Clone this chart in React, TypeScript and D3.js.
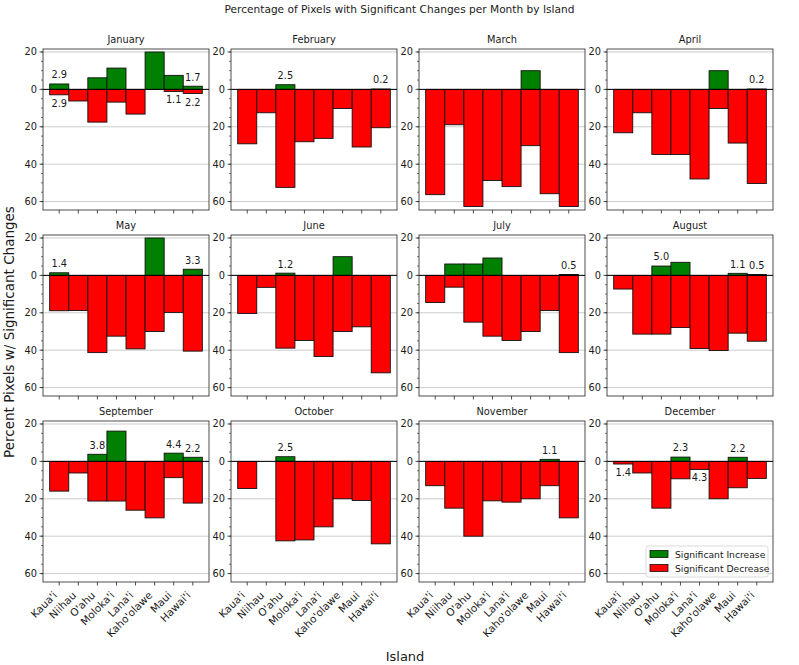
import React from "react";
import * as d3 from "d3";

const islands = ["Kaua'i", "Niihau", "O'ahu", "Moloka'i", "Lana'i", "Kaho'olawe", "Maui", "Hawai'i"];
const months = ["January", "February", "March", "April", "May", "June", "July", "August", "September", "October", "November", "December"];

// Percent of pixels with significant increase, per month (rows) by island (columns)
const increaseByMonth = [
  [2.9, 0, 6.2, 11.4, 0, 20.0, 7.5, 1.7],
  [0, 0, 2.5, 0, 0, 0, 0, 0.2],
  [0, 0, 0, 0, 0, 10.0, 0, 0],
  [0, 0, 0, 0, 0, 10.0, 0, 0.2],
  [1.4, 0, 0, 0, 0, 20.0, 0, 3.3],
  [0, 0, 1.2, 0, 0, 10.0, 0, 0],
  [0, 6.1, 6.1, 9.3, 0, 0, 0, 0.5],
  [0, 0, 5.0, 7.0, 0, 0, 1.1, 0.5],
  [0, 0, 3.8, 16.2, 0, 0, 4.4, 2.2],
  [0, 0, 2.5, 0, 0, 0, 0, 0],
  [0, 0, 0, 0, 0, 0, 1.1, 0],
  [0, 0, 0, 2.3, 0, 0, 2.2, 0],
];

// Percent of pixels with significant decrease, per month (rows) by island (columns)
const decreaseByMonth = [
  [2.9, 6.2, 17.5, 6.8, 13.2, 0, 1.1, 2.2],
  [29.1, 12.5, 52.4, 28.0, 26.2, 10.2, 30.8, 20.5],
  [56.3, 18.9, 62.6, 48.7, 52.0, 30.1, 55.8, 62.6],
  [23.2, 12.5, 34.8, 34.8, 47.9, 10.2, 28.7, 50.3],
  [18.9, 18.8, 41.3, 32.5, 39.3, 30.0, 19.8, 40.5],
  [20.4, 6.4, 38.9, 34.8, 43.4, 30.0, 27.5, 52.1],
  [14.5, 6.3, 25.0, 32.5, 34.8, 30.0, 18.8, 41.3],
  [7.3, 31.4, 31.4, 27.9, 39.1, 40.2, 30.9, 35.2],
  [15.9, 6.2, 21.2, 21.2, 26.1, 30.2, 8.7, 22.3],
  [14.5, 0, 42.5, 42.0, 35.0, 20.0, 20.9, 44.1],
  [13.0, 25.0, 40.0, 21.1, 21.8, 20.0, 13.0, 30.2],
  [1.4, 6.2, 25.0, 9.3, 4.3, 20.0, 14.1, 9.1],
];

const yMajorTicks = [20, 0, -20, -40, -60];
const yMinorTicks = d3.range(-60, 21, 5);
const legendLabels = ["Significant Increase", "Significant Decrease"];

const W = 799;
const H = 665;
const FONT = "DejaVu Sans, sans-serif";
const GREEN = "#008000";
const RED = "#ff0000";
const TXT = "#1a1a1a";

const axLeft0 = 43;
const colStep = 188;
const axW = 166;
const axTop0 = 49;
const rowStep = 186;
const axH = 161;
const fs = 9.8;

function Panel({ mi }: { mi: number }) {
  const col = mi % 4;
  const row = Math.floor(mi / 4);
  const left = axLeft0 + col * colStep;
  const top = axTop0 + row * rowStep;
  const x = d3.scaleLinear().domain([-0.85, 7.85]).range([left, left + axW]);
  const y = d3.scaleLinear().domain([21.6, -64.5]).range([top, top + axH]);
  const inc = increaseByMonth[mi];
  const dec = decreaseByMonth[mi];
  const bw = x(1) - x(0);
  const bottom = top + axH;
  const right = left + axW;
  return (
    <g>
      {yMajorTicks.map((t) => (
        <line key={"g" + t} x1={left} x2={right} y1={y(t)} y2={y(t)} stroke="#c6c6c6" strokeWidth={0.9} />
      ))}
      {inc.map((v, i) =>
        v > 0 ? (
          <rect key={"i" + i} x={x(i - 0.5)} y={y(v)} width={bw} height={y(0) - y(v)} fill={GREEN} stroke="#111" strokeWidth={0.9} />
        ) : null
      )}
      {dec.map((v, i) =>
        v > 0 ? (
          <rect key={"d" + i} x={x(i - 0.5)} y={y(0)} width={bw} height={y(-v) - y(0)} fill={RED} stroke="#111" strokeWidth={0.9} />
        ) : null
      )}
      <line x1={left} x2={right} y1={y(0)} y2={y(0)} stroke="#000" strokeWidth={1} />
      {inc.map((v, i) =>
        v > 0 && v <= 5 ? (
          <text key={"li" + i} x={x(i)} y={y(v) - 5.6} textAnchor="middle" fontSize={fs} fill={TXT} fontFamily={FONT}>
            {v.toFixed(1)}
          </text>
        ) : null
      )}
      {dec.map((v, i) =>
        v > 0 && v <= 5 ? (
          <text key={"ld" + i} x={x(i)} y={y(-v) + 12} textAnchor="middle" fontSize={fs} fill={TXT} fontFamily={FONT}>
            {v.toFixed(1)}
          </text>
        ) : null
      )}
      <rect x={left} y={top} width={axW} height={axH} fill="none" stroke="#222" strokeWidth={0.8} />
      {yMinorTicks.map((t) => (
        <line key={"m" + t} x1={left - 2} x2={left} y1={y(t)} y2={y(t)} stroke="#222" strokeWidth={0.6} />
      ))}
      {yMajorTicks.map((t) => (
        <g key={"t" + t}>
          <line x1={left - 3.5} x2={left} y1={y(t)} y2={y(t)} stroke="#222" strokeWidth={0.8} />
          <text x={left - 6} y={y(t)} dy="0.35em" textAnchor="end" fontSize={fs} fill={TXT} fontFamily={FONT}>
            {Math.abs(t)}
          </text>
        </g>
      ))}
      {islands.map((name, i) => (
        <g key={"x" + i}>
          <line x1={x(i)} x2={x(i)} y1={bottom} y2={bottom + 3.5} stroke="#222" strokeWidth={0.8} />
          {row === 2 ? (
            <text
              transform={`translate(${x(i) - 1.5},${bottom + 14}) rotate(-45)`}
              textAnchor="end"
              fontSize={10.4}
              fill={TXT}
              fontFamily={FONT}
            >
              {name}
            </text>
          ) : null}
        </g>
      ))}
      <text x={(left + right) / 2} y={top - 5.7} textAnchor="middle" fontSize={fs} fill={TXT} fontFamily={FONT}>
        {months[mi]}
      </text>
      {mi === 11 ? <Legend right={right} bottom={bottom} /> : null}
    </g>
  );
}

function Legend({ right, bottom }: { right: number; bottom: number }) {
  const lfs = 9.2;
  const lw = 122;
  const lh = 31;
  const lx = right - 5 - lw;
  const ly = bottom - 5 - lh;
  const colors = [GREEN, RED];
  return (
    <g>
      <rect x={lx} y={ly} width={lw} height={lh} rx={2} fill="#fff" fillOpacity={0.8} stroke="#d0d0d0" strokeWidth={0.8} />
      {legendLabels.map((lab, k) => (
        <g key={lab}>
          <rect x={lx + 4} y={ly + 4.5 + k * 14} width={18} height={7} fill={colors[k]} stroke="#111" strokeWidth={0.8} />
          <text x={lx + 29} y={ly + 4.5 + k * 14 + 7.2} fontSize={lfs} fill={TXT} fontFamily={FONT}>
            {lab}
          </text>
        </g>
      ))}
    </g>
  );
}

export default function App() {
  return (
    <svg width={W} height={H} style={{ display: "block", position: "absolute", left: 0, top: 0 }} xmlns="http://www.w3.org/2000/svg">
      <rect width={W} height={H} fill="#fff" />
      <text x={W / 2} y={12.5} textAnchor="middle" fontSize={10.6} fill={TXT} fontFamily={FONT}>
        Percentage of Pixels with Significant Changes per Month by Island
      </text>
      <text transform={`translate(${14},${332}) rotate(-90)`} textAnchor="middle" fontSize={13.5} fill={TXT} fontFamily={FONT}>
        Percent Pixels w/ Significant Changes
      </text>
      <text x={405} y={661} textAnchor="middle" fontSize={13} fill={TXT} fontFamily={FONT}>
        Island
      </text>
      {months.map((m, mi) => (
        <Panel key={m} mi={mi} />
      ))}
    </svg>
  );
}
